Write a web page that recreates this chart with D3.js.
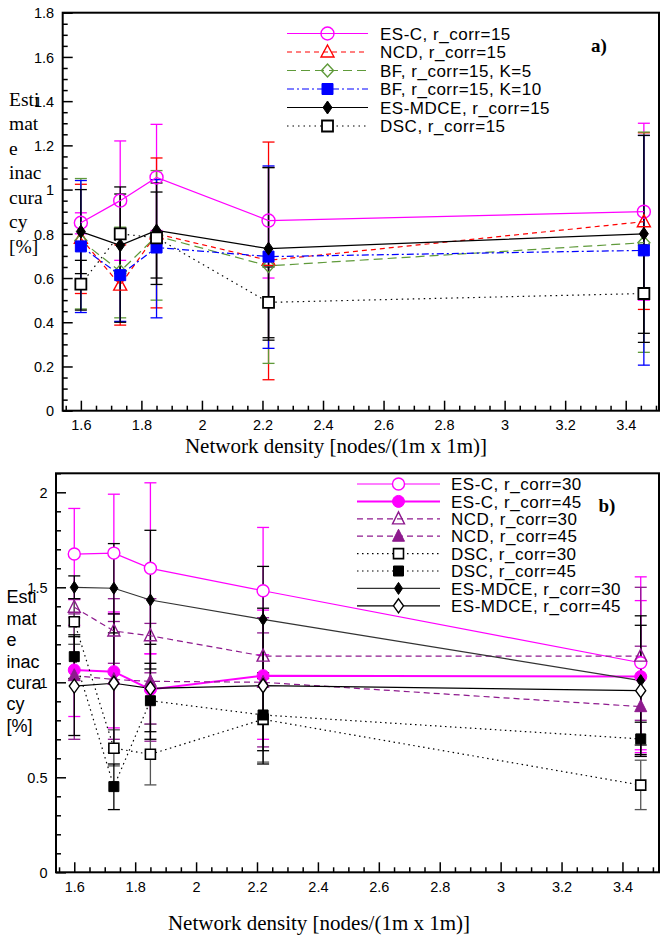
<!DOCTYPE html>
<html>
<head>
<meta charset="utf-8">
<script src="https://cdn.jsdelivr.net/npm/d3@7"></script>
<style>
  body { margin: 0; background: #fff; }
  svg { display: block; }
</style>
</head>
<body>
<div id="chart"></div>
<script>
// network densities (x) shared by both panels
const density = [1.6, 1.73, 1.85, 2.22, 3.46];

// panel a) r_corr = 15
const escA = [0.85, 0.95, 1.055, 0.86, 0.90];
const escALo = [0.80, 0.68, 0.815, 0.60, 0.50];
const escAHi = [0.895, 1.22, 1.295, 1.10, 1.30];
const ncdA = [0.78, 0.568, 0.80, 0.68, 0.855];
const ncdALo = [0.53, 0.387, 0.465, 0.14, 0.458];
const ncdAHi = [1.024, 0.75, 1.143, 1.215, 1.257];
const bf5A = [0.77, 0.63, 0.79, 0.655, 0.76];
const bf5ALo = [0.46, 0.42, 0.50, 0.214, 0.264];
const bf5AHi = [1.05, 0.83, 1.086, 1.099, 1.26];
const bf10A = [0.743, 0.613, 0.738, 0.697, 0.725];
const bf10ALo = [0.444, 0.404, 0.42, 0.282, 0.206];
const bf10AHi = [1.041, 0.82, 1.045, 1.107, 1.245];
const mdceA = [0.81, 0.748, 0.815, 0.733, 0.80];
const mdceALo = [0.62, 0.40, 0.60, 0.319, 0.35];
const mdceAHi = [1.00, 1.012, 1.03, 1.10, 1.245];
const dscA = [0.572, 0.80, 0.782, 0.49, 0.53];
const dscALo = [0.455, 0.62, 0.571, 0.33, 0.309];
const dscAHi = [0.68, 0.98, 0.989, 0.65, 0.75];

// panel b) r_corr = 30 / 45
const esc30 = [1.675, 1.68, 1.60, 1.482, 1.103];
const esc30Lo = [1.435, 1.37, 1.15, 1.145, 0.645];
const esc30Hi = [1.915, 1.99, 2.05, 1.815, 1.555];
const esc45 = [1.065, 1.056, 0.962, 1.035, 1.03];
const esc45Lo = [0.82, 0.76, 0.78, 0.70, 0.63];
const esc45Hi = [1.30, 1.36, 1.15, 1.38, 1.43];
const ncd30 = [1.395, 1.27, 1.245, 1.138, 1.138];
const ncd30Lo = [1.34, 1.10, 1.05, 1.02, 0.80];
const ncd30Hi = [1.44, 1.44, 1.44, 1.26, 1.50];
const ncd45 = [1.035, 1.015, 1.005, 1.0, 0.872];
const ncd45Lo = [0.70, 0.70, 0.69, 0.66, 0.61];
const ncd45Hi = [1.36, 1.32, 1.31, 1.34, 1.19];
const dsc30 = [1.319, 0.653, 0.621, 0.805, 0.459];
const dsc30Lo = [1.20, 0.56, 0.46, 0.58, 0.33];
const dsc30Hi = [1.44, 0.75, 0.78, 1.03, 0.59];
const dsc45 = [1.135, 0.451, 0.903, 0.828, 0.702];
const dsc45Lo = [1.02, 0.33, 0.70, 0.64, 0.62];
const dsc45Hi = [1.25, 0.57, 1.10, 1.02, 0.79];
const mdce30 = [1.50, 1.495, 1.433, 1.331, 1.009];
const mdce30Lo = [1.44, 1.26, 1.07, 1.05, 0.67];
const mdce30Hi = [1.56, 1.73, 1.80, 1.61, 1.35];
const mdce45 = [0.98, 0.995, 0.968, 0.982, 0.956];
const mdce45Lo = [0.72, 0.63, 0.74, 0.57, 0.61];
const mdce45Hi = [1.24, 1.36, 1.20, 1.39, 1.30];

const xTicks = [1.6, 1.8, 2, 2.2, 2.4, 2.6, 2.8, 3, 3.2, 3.4];
const yTicksA = [0, 0.2, 0.4, 0.6, 0.8, 1, 1.2, 1.4, 1.6, 1.8];
const yTicksB = [0, 0.5, 1, 1.5, 2];
const yLabelLines = ['Esti', 'mat', 'e', 'inac', 'cura', 'cy', '[%]'];
const xTitle = 'Network density [nodes/(1m x 1m)]';

const svg = d3.select('#chart').append('svg')
  .attr('width', 660)
  .attr('height', 935);

// marker shapes, centred on 0,0
const shape = (type, w, h) => {
  const p = d3.path();
  if (type === 'circle') {
    p.arc(0, 0, w / 2, 0, 2 * Math.PI);
  } else if (type === 'square') {
    p.rect(-w / 2, -w / 2, w, w);
  } else if (type === 'triangle') {
    p.moveTo(0, -h * 0.58); p.lineTo(w / 2, h * 0.42); p.lineTo(-w / 2, h * 0.42); p.closePath();
  } else if (type === 'diamond') {
    p.moveTo(0, -h / 2); p.lineTo(w / 2, 0); p.lineTo(0, h / 2); p.lineTo(-w / 2, 0); p.closePath();
  }
  return p.toString();
};

const fmt = d => String(+d.toFixed(2));

function drawPanel(cfg) {
  const x = d3.scaleLinear().domain(cfg.xDomain).range([cfg.left, cfg.right]);
  const y = d3.scaleLinear().domain(cfg.yDomain).range([cfg.bottom, cfg.top]);
  const g = svg.append('g');

  // ticks point into the plot
  const minorX = d3.range(1.55, cfg.xDomain[1], 0.05).map(v => +v.toFixed(2))
    .filter(v => !xTicks.some(t => Math.abs(t - v) < 1e-6));
  const minorY = d3.range(0, cfg.yDomain[1] + 1e-6, cfg.yMinor).map(v => +v.toFixed(2))
    .filter(v => !cfg.yTicks.some(t => Math.abs(t - v) < 1e-6));

  g.append('g').attr('transform', `translate(0,${cfg.bottom})`)
    .call(d3.axisBottom(x).tickValues(xTicks).tickFormat(fmt).tickSize(-10).tickSizeOuter(0).tickPadding(9));
  g.append('g').attr('transform', `translate(0,${cfg.bottom})`)
    .call(d3.axisBottom(x).tickValues(minorX).tickFormat('').tickSize(-5).tickSizeOuter(0));
  const ay = g.append('g').attr('transform', `translate(${cfg.left},0)`)
    .call(d3.axisLeft(y).tickValues(cfg.yTicks).tickFormat(fmt).tickSize(-10).tickSizeOuter(0).tickPadding(8.5));
  g.append('g').attr('transform', `translate(${cfg.left},0)`)
    .call(d3.axisLeft(y).tickValues(minorY).tickFormat('').tickSize(-5).tickSizeOuter(0));
  g.selectAll('.domain').remove();
  g.selectAll('.tick line').attr('stroke', '#000').attr('stroke-width', 1.5);
  g.selectAll('.tick text').attr('font-family', 'Liberation Sans, Arial, sans-serif')
    .attr('font-size', 14.5).attr('fill', '#000');
  ay.selectAll('.tick text').attr('dy', '0.36em');

  g.append('rect')
    .attr('x', cfg.left).attr('y', cfg.top)
    .attr('width', cfg.right - cfg.left).attr('height', cfg.bottom - cfg.top)
    .attr('fill', 'none').attr('stroke', '#000').attr('stroke-width', 2);

  const plot = g.append('g');

  // error bars
  cfg.series.forEach(s => {
    const eb = plot.append('g').attr('stroke', s.errColor || s.color).attr('stroke-width', 1.3).attr('fill', 'none');
    density.forEach((d, i) => {
      const cx = x(d);
      eb.append('line').attr('x1', cx).attr('x2', cx).attr('y1', y(s.lo[i])).attr('y2', y(s.hi[i]));
      [s.lo[i], s.hi[i]].forEach(v => {
        eb.append('line').attr('x1', cx - 6).attr('x2', cx + 6).attr('y1', y(v)).attr('y2', y(v));
      });
    });
  });

  const line = d3.line().x((d, i) => x(density[i])).y(d => y(d));
  cfg.series.forEach(s => {
    plot.append('path').attr('d', line(s.y))
      .attr('fill', 'none').attr('stroke', s.lineColor || s.color)
      .attr('stroke-width', s.width).attr('stroke-dasharray', s.dash);
  });

  cfg.series.forEach(s => {
    plot.append('g').selectAll('path').data(s.y).join('path')
      .attr('transform', (d, i) => `translate(${x(density[i])},${y(d)})`)
      .attr('d', shape(s.marker, s.mw, s.mh))
      .attr('fill', s.fill).attr('stroke', s.color).attr('stroke-width', s.mstroke);
  });

  // legend
  const lg = g.append('g');
  cfg.series.forEach((s, i) => {
    const cy = cfg.legend.y + i * cfg.legend.step;
    lg.append('line').attr('x1', cfg.legend.x1).attr('x2', cfg.legend.x2).attr('y1', cy).attr('y2', cy)
      .attr('stroke', s.lineColor || s.color).attr('stroke-width', s.width).attr('stroke-dasharray', s.dash);
    lg.append('path').attr('transform', `translate(${(cfg.legend.x1 + cfg.legend.x2) / 2},${cy})`)
      .attr('d', shape(s.marker, s.mw, s.mh))
      .attr('fill', s.fill).attr('stroke', s.color).attr('stroke-width', s.mstroke);
    lg.append('text').attr('x', cfg.legend.tx).attr('y', cy).attr('dy', '0.36em')
      .attr('font-family', 'Liberation Sans, Arial, sans-serif').attr('font-size', 17)
      .attr('letter-spacing', 0.5)
      .text(s.name);
  });

  g.append('text').attr('x', cfg.tag.x).attr('y', cfg.tag.y).attr('dy', '0.35em')
    .attr('text-anchor', 'middle').attr('font-family', 'Liberation Serif, Times New Roman, serif')
    .attr('font-weight', 'bold').attr('font-size', 19).text(cfg.tag.text);

  // y title broken over several lines
  g.append('g').selectAll('text').data(yLabelLines).join('text')
    .attr('x', cfg.ylab.x).attr('y', (d, i) => cfg.ylab.y + i * cfg.ylab.step).attr('dy', '0.35em')
    .attr('font-family', cfg.ylab.font).attr('font-size', cfg.ylab.size)
    .text(d => d);

  g.append('text').attr('x', cfg.xlab.x).attr('y', cfg.xlab.y)
    .attr('text-anchor', 'middle').attr('font-family', 'Liberation Serif, Times New Roman, serif')
    .attr('font-size', 21).text(xTitle);
}

drawPanel({
  left: 62.7, right: 659, top: 12.7, bottom: 410.7,
  xDomain: [1.54, 3.51], yDomain: [0, 1.8], yTicks: yTicksA, yMinor: 0.05,
  legend: { x1: 287, x2: 368, tx: 380, y: 33.5, step: 18.5 },
  tag: { x: 599, y: 45, text: 'a)' },
  ylab: { x: 9, y: 99, step: 24.5, size: 19.5, font: 'Liberation Serif, Times New Roman, serif' },
  xlab: { x: 336, y: 453 },
  series: [
    { name: 'ES-C, r_corr=15', y: escA, lo: escALo, hi: escAHi, color: '#ff00ff', width: 1.2, dash: null, marker: 'circle', mw: 13, fill: 'none', mstroke: 1.4 },
    { name: 'NCD, r_corr=15', y: ncdA, lo: ncdALo, hi: ncdAHi, color: '#ff0000', width: 1.2, dash: '5,4', marker: 'triangle', mw: 13, mh: 12, fill: 'none', mstroke: 1.4 },
    { name: 'BF, r_corr=15, K=5', y: bf5A, lo: bf5ALo, hi: bf5AHi, color: '#5f9a3a', width: 1.2, dash: '9,5', marker: 'diamond', mw: 12, mh: 13, fill: 'none', mstroke: 1.4 },
    { name: 'BF, r_corr=15, K=10', y: bf10A, lo: bf10ALo, hi: bf10AHi, color: '#0000ff', width: 1.2, dash: '7,3,2,3', marker: 'square', mw: 11, fill: '#0000ff', mstroke: 1 },
    { name: 'ES-MDCE, r_corr=15', y: mdceA, lo: mdceALo, hi: mdceAHi, color: '#000', width: 1.2, dash: null, marker: 'diamond', mw: 9, mh: 13, fill: '#000', mstroke: 1 },
    { name: 'DSC, r_corr=15', y: dscA, lo: dscALo, hi: dscAHi, color: '#000', width: 1.2, dash: '1.5,4', marker: 'square', mw: 11, fill: '#fff', mstroke: 1.8 }
  ]
});

drawPanel({
  left: 56, right: 659, top: 473.3, bottom: 872.3,
  xDomain: [1.54, 3.52], yDomain: [0, 2.1], yTicks: yTicksB, yMinor: 0.1,
  legend: { x1: 357, x2: 440, tx: 451, y: 484, step: 17.4 },
  tag: { x: 607, y: 505, text: 'b)' },
  ylab: { x: 6.5, y: 597, step: 21.4, size: 18, font: 'Liberation Sans, Arial, sans-serif' },
  xlab: { x: 319, y: 930 },
  series: [
    { name: 'ES-C, r_corr=30', y: esc30, lo: esc30Lo, hi: esc30Hi, color: '#ff00ff', width: 1.2, dash: null, marker: 'circle', mw: 12, fill: '#fff', mstroke: 1.4 },
    { name: 'ES-C, r_corr=45', y: esc45, lo: esc45Lo, hi: esc45Hi, color: '#ff00ff', width: 2, dash: null, marker: 'circle', mw: 12, fill: '#ff00ff', mstroke: 1 },
    { name: 'NCD, r_corr=30', y: ncd30, lo: ncd30Lo, hi: ncd30Hi, color: '#8e1a8e', width: 1.2, dash: '6,4', marker: 'triangle', mw: 12, mh: 12, fill: 'none', mstroke: 1.4 },
    { name: 'NCD, r_corr=45', y: ncd45, lo: ncd45Lo, hi: ncd45Hi, color: '#8e1a8e', width: 1.2, dash: '6,4', marker: 'triangle', mw: 12, mh: 12, fill: '#8e1a8e', mstroke: 1 },
    { name: 'DSC, r_corr=30', y: dsc30, lo: dsc30Lo, hi: dsc30Hi, color: '#000', errColor: '#555', width: 1.2, dash: '1.5,3.5', marker: 'square', mw: 10, fill: '#fff', mstroke: 1.6 },
    { name: 'DSC, r_corr=45', y: dsc45, lo: dsc45Lo, hi: dsc45Hi, color: '#000', width: 1.2, dash: '1.5,3.5', marker: 'square', mw: 10, fill: '#000', mstroke: 1 },
    { name: 'ES-MDCE, r_corr=30', y: mdce30, lo: mdce30Lo, hi: mdce30Hi, color: '#000', lineColor: '#333', width: 1.2, dash: null, marker: 'diamond', mw: 8, mh: 12, fill: '#000', mstroke: 1 },
    { name: 'ES-MDCE, r_corr=45', y: mdce45, lo: mdce45Lo, hi: mdce45Hi, color: '#000', width: 1.2, dash: null, marker: 'diamond', mw: 10, mh: 14, fill: '#fff', mstroke: 1.4 }
  ]
});
</script>
</body>
</html>
